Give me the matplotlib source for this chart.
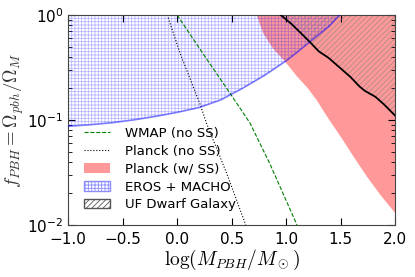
import numpy as np
import matplotlib
matplotlib.use('Agg')
import matplotlib.pyplot as plt
from matplotlib.patches import Patch
from matplotlib.lines import Line2D

plt.rcParams['mathtext.fontset'] = 'cm'
plt.rcParams['hatch.linewidth'] = 0.6

# EROS + MACHO lower boundary
eros_x = [-1.0, -0.8, -0.6, -0.4, -0.2, 0.0, 0.2, 0.4, 0.6, 0.8, 1.0, 1.1, 1.2, 1.3, 1.4, 1.49]
eros_y = [0.087, 0.09, 0.094, 0.1, 0.108, 0.118, 0.131, 0.155, 0.2, 0.265, 0.365,
          0.44, 0.535, 0.65, 0.79, 1.0]

# Planck (w/ SS) lower boundary
planck_ss_x = [0.73, 0.79, 0.88, 0.99, 1.1, 1.2, 1.28, 1.37, 1.51, 1.63, 1.74, 1.87, 2.0]
planck_ss_y = [1.0, 0.67, 0.48, 0.36, 0.26, 0.2, 0.155, 0.11, 0.067, 0.043, 0.029, 0.019, 0.013]

# UF Dwarf Galaxy boundary
dwarf_x = [0.95, 1.05, 1.15, 1.22, 1.3, 1.39, 1.5, 1.59, 1.67, 1.72, 1.82, 1.9, 2.0]
dwarf_y = [1.0, 0.82, 0.65, 0.55, 0.45, 0.39, 0.31, 0.257, 0.21, 0.19, 0.166, 0.14, 0.11]

# WMAP (no SS)
wmap_x = [0.0, 0.24, 0.49, 0.67, 0.85, 1.1]
wmap_y = [1.0, 0.425, 0.177, 0.093, 0.0385, 0.01]

# Planck (no SS)
planck_x = [-0.09, 0.03, 0.21, 0.27, 0.455, 0.63]
planck_y = [1.0, 0.425, 0.142, 0.093, 0.031, 0.01]

labels = ['WMAP (no SS)', 'Planck (no SS)', 'Planck (w/ SS)', 'EROS + MACHO', 'UF Dwarf Galaxy']

fig = plt.figure(figsize=(4.15, 2.77), dpi=100)
ax = fig.add_axes([0.164, 0.188, 0.788, 0.758])

ax.fill_between(planck_ss_x, planck_ss_y, 1.0, facecolor='red', alpha=0.4,
                edgecolor='none', zorder=1)
ax.fill_between(eros_x, eros_y, 1.0, facecolor='none', edgecolor='blue',
                hatch='+++++', alpha=0.28, linewidth=0, zorder=2)
ax.plot(eros_x, eros_y, color='blue', alpha=0.5, lw=1.2, zorder=3)
ax.fill_between(dwarf_x, dwarf_y, 1.0, facecolor='none', edgecolor='gray',
                hatch='//////', alpha=0.6, linewidth=0, zorder=2)
ax.plot(dwarf_x, dwarf_y, color='black', lw=1.3, zorder=4)

ax.plot(wmap_x, wmap_y, color='green', ls='--', lw=0.8)
ax.plot(planck_x, planck_y, color='black', ls=':', lw=0.8)

# legend proxies
handles = [
    Line2D([], [], color='green', ls='--', lw=0.8),
    Line2D([], [], color='black', ls=':', lw=0.8),
    Patch(facecolor='red', alpha=0.4, edgecolor='none'),
    Patch(facecolor='none', edgecolor=(0.55, 0.55, 1.0), hatch='+++++'),
    Patch(facecolor='none', edgecolor='#555555', hatch='//////'),
]
ax.legend(handles, labels, loc='lower left', frameon=False, fontsize=9.5,
          handlelength=2.0, handletextpad=1.1, borderaxespad=0.3, labelspacing=0.37,
          bbox_to_anchor=(0.02, 0.02))

ax.set_yscale('log')
ax.set_xlim(-1, 2)
ax.set_ylim(0.01, 1)
ax.set_xticks([-1.0, -0.5, 0.0, 0.5, 1.0, 1.5, 2.0])
ax.tick_params(which='both', direction='in', top=True, right=True, labelsize=11)
ax.tick_params(axis='x', pad=5)
ax.tick_params(which='major', length=5)
ax.tick_params(which='minor', length=3)
for s in ax.spines.values():
    s.set_color('#444444')

ax.set_xlabel(r'$\log(M_{PBH}/M_\odot)$', fontsize=14, labelpad=1)
ax.set_ylabel(r'$f_{PBH} = \Omega_{pbh}/\Omega_M$', fontsize=13.5, color='#333333', labelpad=1)

fig.savefig('out.png', dpi=100)
